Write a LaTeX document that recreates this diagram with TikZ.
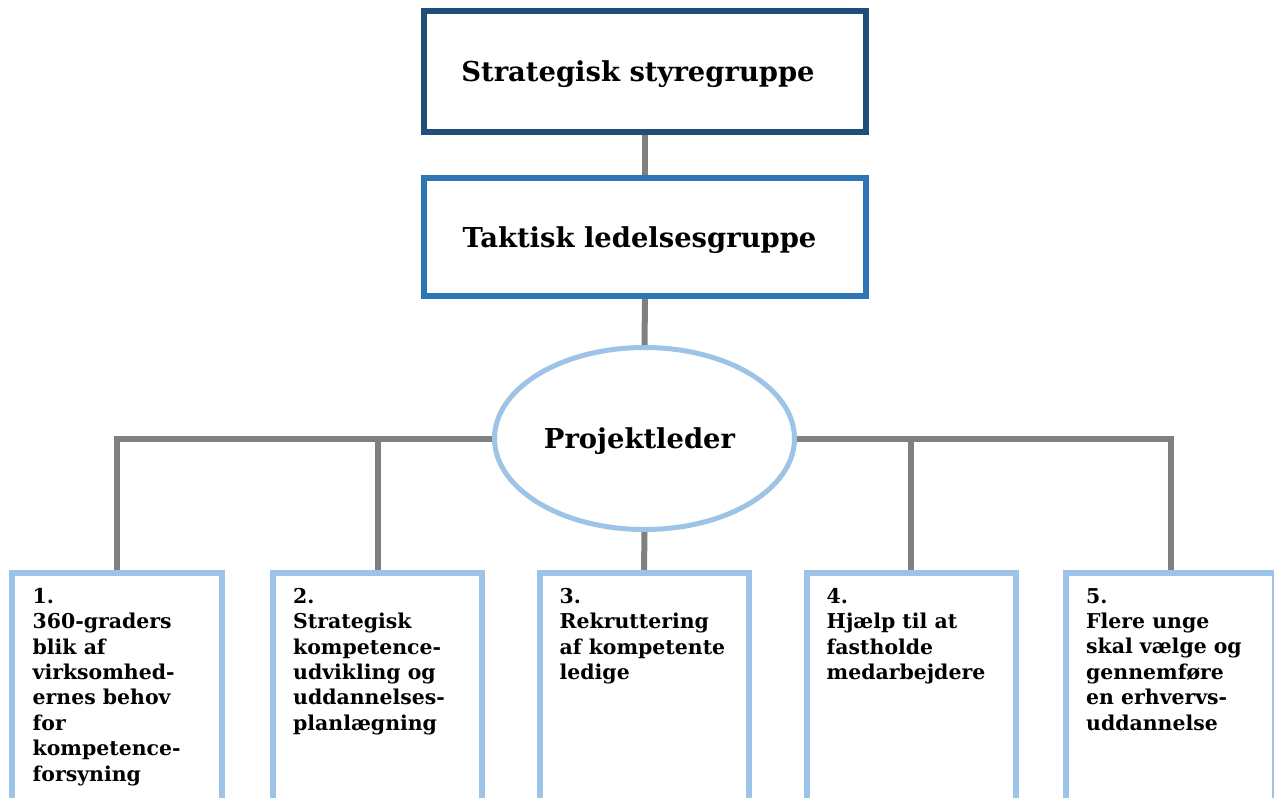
\documentclass[tikz,border=0pt]{standalone}
\usepackage{fontspec}
\setmainfont{DejaVu Serif}
\usetikzlibrary{shapes.geometric,calc,backgrounds}
\definecolor{darkblue}{RGB}{31,78,121}
\definecolor{midblue}{RGB}{46,117,182}
\definecolor{lightblue}{RGB}{157,195,230}
\definecolor{conngray}{RGB}{128,128,128}
\begin{document}
\begin{tikzpicture}[x=1bp,y=-1bp,
  topbox/.style={draw=darkblue,line width=6bp,fill=white,minimum width=442bp,minimum height=121bp,inner sep=0pt},
  midbox/.style={draw=midblue,line width=6bp,fill=white,minimum width=442bp,minimum height=118bp,inner sep=0pt},
  leadell/.style={ellipse,draw=lightblue,line width=5bp,fill=white,minimum width=300bp,minimum height=182bp,inner sep=0pt},
  titletext/.style={inner sep=0pt,font=\fontsize{27.5}{32}\selectfont\bfseries},
  areabox/.style={draw=lightblue,line width=6bp,fill=white,minimum width=209bp,minimum height=300bp,inner sep=0pt,anchor=north},
  areatext/.style={align=left,inner sep=0pt,anchor=north west,font=\fontsize{20.5}{25.5}\selectfont\bfseries},
  conn/.style={draw=conngray,line width=6bp}]
\useasboundingbox (0,0) rectangle (1274,798);
\clip (0,0) rectangle (1274,798);

\node[topbox] (A) at (645,71.5) {};
\node[midbox] (B) at (645,237) {};
\node[leadell] (P) at (644.5,438.5) {};
\node[titletext] (At) at ($(A.center)+(-7,3)$) {Strategisk styregruppe};
\node[titletext] (Bt) at ($(B.center)+(-5.5,3)$) {Taktisk ledelsesgruppe};
\node[titletext] (Pt) at ($(P.center)+(-5,3)$) {Projektleder};

\node[areabox] (b1) at (117,570) {};
\node[areabox] (b2) at (377.5,570) {};
\node[areabox] (b3) at (644,570) {};
\node[areabox] (b4) at (911,570) {};
\node[areabox] (b5) at (1170.5,570) {};

\begin{pgfonlayer}{background}
\fill[white] (0,0) rectangle (1274,798);
\draw[conn] (A.south) -- (B.north);
\draw[conn] (B.south) -- (P.north);
\draw[conn] (P.west) -| (b1.north);
\draw[conn] (P.west -| b2.north) -- (b2.north);
\draw[conn] (P.east) -| (b5.north);
\draw[conn] (P.east -| b4.north) -- (b4.north);
\draw[conn] (P.south) -- (b3.north);
\end{pgfonlayer}

\node[areatext] (t1) at ($(b1.north west)+(23,18)$) {1.\\360-graders\\blik af\\virksomhed-\\ernes behov\\for\\kompetence-\\forsyning};
\node[areatext] (t2) at ($(b2.north west)+(23,18)$) {2.\\Strategisk\\kompetence-\\udvikling og\\uddannelses-\\planlægning};
\node[areatext] (t3) at ($(b3.north west)+(23,18)$) {3.\\Rekruttering\\af kompetente\\ledige};
\node[areatext] (t4) at ($(b4.north west)+(23,18)$) {4.\\Hjælp til at\\fastholde\\medarbejdere};
\node[areatext] (t5) at ($(b5.north west)+(23,18)$) {5.\\Flere unge\\skal vælge og\\gennemføre\\en erhvervs-\\uddannelse};
\end{tikzpicture}
\end{document}
